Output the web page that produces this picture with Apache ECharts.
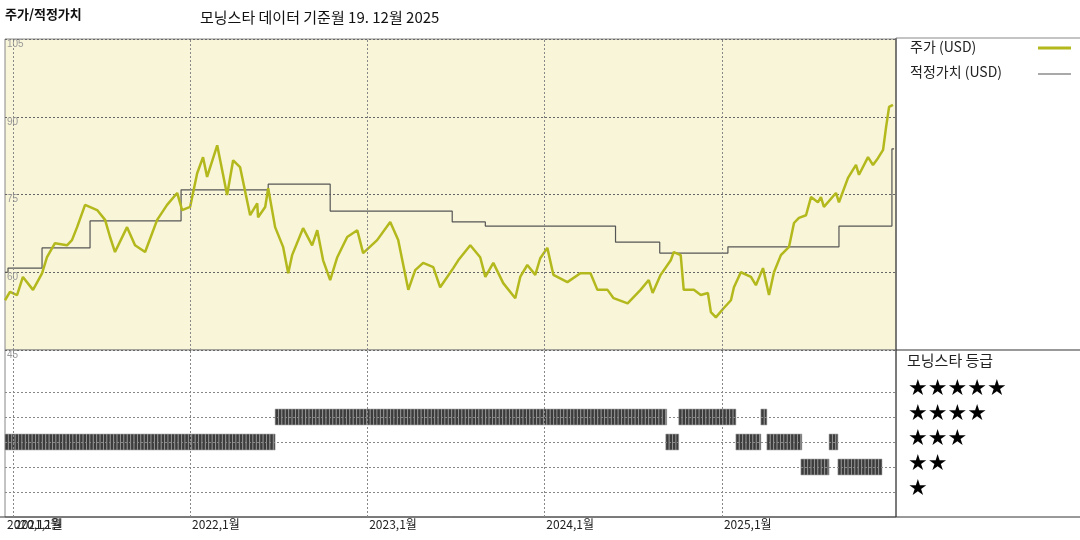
<!DOCTYPE html>
<html><head><meta charset="utf-8">
<script src="https://cdn.jsdelivr.net/npm/echarts@6/dist/echarts.min.js"></script>
<style>html,body{margin:0;padding:0;background:#fff}#main{width:1080px;height:540px}</style>
</head><body><div id="main"></div>
<script>
// decimal-year positions
const priceT = [2020.955,2020.983,2021.023,2021.056,2021.113,2021.164,2021.192,2021.237,2021.305,2021.333,2021.362,2021.407,2021.475,2021.520,2021.548,2021.576,2021.644,2021.689,2021.746,2021.814,2021.870,2021.927,2021.955,2022.000,2022.040,2022.073,2022.096,2022.153,2022.209,2022.243,2022.282,2022.339,2022.379,2022.384,2022.424,2022.441,2022.480,2022.525,2022.554,2022.576,2022.638,2022.689,2022.718,2022.751,2022.791,2022.831,2022.887,2022.944,2022.977,2023.056,2023.130,2023.175,2023.232,2023.271,2023.316,2023.373,2023.412,2023.486,2023.514,2023.582,2023.638,2023.667,2023.712,2023.768,2023.836,2023.864,2023.904,2023.949,2023.977,2024.017,2024.051,2024.130,2024.203,2024.260,2024.299,2024.356,2024.390,2024.469,2024.542,2024.588,2024.610,2024.655,2024.712,2024.729,2024.768,2024.785,2024.842,2024.881,2024.921,2024.938,2024.966,2025.011,2025.051,2025.068,2025.107,2025.164,2025.192,2025.232,2025.266,2025.294,2025.333,2025.379,2025.407,2025.435,2025.475,2025.503,2025.542,2025.559,2025.576,2025.644,2025.661,2025.712,2025.757,2025.774,2025.825,2025.853,2025.881,2025.910,2025.927,2025.944,2025.966];
const priceV = [54.6,56.2,55.6,59.1,56.6,59.8,62.9,65.6,65.2,66.2,68.7,73.0,72.0,70.1,66.8,63.9,68.7,65.2,63.9,70.1,73.0,75.3,72.0,72.6,79.1,82.2,78.4,84.5,74.9,81.6,80.3,71.0,73.3,70.6,72.6,76.2,68.7,64.9,59.8,63.3,68.5,65.2,68.1,62.3,58.5,62.9,66.8,68.1,63.7,66.2,69.7,66.2,56.6,60.4,61.8,61.0,57.1,60.8,62.3,65.2,62.9,59.1,61.8,57.9,55.0,59.1,61.4,59.5,62.7,64.7,59.5,58.1,59.8,59.8,56.6,56.6,55.0,54.0,56.6,58.5,56.0,59.5,62.3,63.9,63.3,56.6,56.6,55.6,56.0,52.3,51.3,53.1,54.6,57.1,60.0,59.1,57.5,60.8,55.6,60.0,63.3,64.9,69.5,70.5,71.0,74.5,73.5,74.5,72.6,75.3,73.5,78.2,80.7,78.8,82.2,80.7,82.0,83.6,88.0,91.9,92.3];

const fairT = [2020.955,2020.972,2021.164,2021.435,2021.949,2022.441,2022.791,2023.480,2023.667,2024.401,2024.650,2025.034,2025.661,2025.960,2025.972];
const fairV = [60.0,60.8,64.7,69.9,75.9,77.0,71.8,69.7,68.9,65.8,63.7,64.9,68.9,83.8,83.8];

// rating periods: start, end, stars
const ratingStart = [2020.955,2022.480,2024.684,2024.757,2025.079,2025.220,2025.254,2025.446,2025.605,2025.655];
const ratingEnd   = [2022.480,2024.684,2024.757,2025.079,2025.220,2025.254,2025.446,2025.605,2025.655,2025.904];
const ratingStars = [3,4,3,4,3,4,3,2,3,2];

const yearLines = [2021,2022,2023,2024,2025];
const tickLabelT = [2020.955,2021,2022,2023,2024,2025];
const tickLabels = ['2020,12월','2021,1월','2022,1월','2023,1월','2024,1월','2025,1월'];
const starRows = [1,2,3,4,5];

function ts(d){const y=Math.floor(d);const s=Date.UTC(y,0,1),e=Date.UTC(y+1,0,1);return s+(d-y)*(e-s);}
const xMin = ts(2020.955), xMax = ts(2025.983);

// weekly stripes inside each rating period
const ratingData = [];
ratingStart.forEach((s,i)=>{
  const a=ts(s), b=ts(ratingEnd[i]); const wk=7*864e5;
  for(let t=a;t<b;t+=wk) ratingData.push([t,Math.min(t+wk,b),ratingStars[i]]);
});

const vLines = yearLines.map(y=>({xAxis:ts(y)}));
const dash = {color:'#666',type:[2,2],width:1};

const chart = echarts.init(document.getElementById('main'));
const staticGraphic = [
  {type:'text',left:5,top:8,style:{text:'주가/적정가치',font:'bold 13px "Noto Sans CJK KR"',fill:'#111'}},
  {type:'text',left:200,top:10,style:{text:'모닝스타 데이터 기준월 19. 12월 2025',font:'15px "Noto Sans CJK KR"',fill:'#111'}},
  {type:'line',shape:{x1:896,y1:38,x2:1080,y2:38},style:{stroke:'#888'}},
  {type:'line',shape:{x1:896,y1:350,x2:1080,y2:350},style:{stroke:'#333'}},
  {type:'line',shape:{x1:0,y1:517,x2:1080,y2:517},style:{stroke:'#333'}},
  {type:'line',shape:{x1:896,y1:38,x2:896,y2:517},style:{stroke:'#333'}},
  {type:'text',left:910,top:40,style:{text:'주가 (USD)',font:'14px "Noto Sans CJK KR"',fill:'#222'}},
  {type:'line',shape:{x1:1038,y1:48,x2:1071,y2:48},style:{stroke:'#b3b91c',lineWidth:3}},
  {type:'text',left:910,top:65,style:{text:'적정가치 (USD)',font:'14px "Noto Sans CJK KR"',fill:'#222'}},
  {type:'line',shape:{x1:1038,y1:74,x2:1071,y2:74},style:{stroke:'#555',lineWidth:1.2}},
  {type:'text',left:907,top:353,style:{text:'모닝스타 등급',font:'15px "Noto Sans CJK KR"',fill:'#222'}},
  {type:'text',left:908,top:378,style:{text:'★★★★★',font:'22px "DejaVu Sans"',fill:'#000'}},
  {type:'text',left:908,top:403,style:{text:'★★★★',font:'22px "DejaVu Sans"',fill:'#000'}},
  {type:'text',left:908,top:428,style:{text:'★★★',font:'22px "DejaVu Sans"',fill:'#000'}},
  {type:'text',left:908,top:453,style:{text:'★★',font:'22px "DejaVu Sans"',fill:'#000'}},
  {type:'text',left:908,top:478,style:{text:'★',font:'22px "DejaVu Sans"',fill:'#000'}}
];
chart.setOption({
  animation:false,
  textStyle:{fontFamily:'"Noto Sans CJK KR", sans-serif'},
  grid:[
    {left:5,top:39,width:891,height:311,show:true,backgroundColor:'#f9f5d8',borderColor:'#888',borderWidth:1},
    {left:5,top:350,width:891,height:167,show:true,backgroundColor:'#fff',borderColor:'#888',borderWidth:1}
  ],
  xAxis:[
    {type:'time',gridIndex:0,min:xMin,max:xMax,axisLine:{show:false},axisTick:{show:false},axisLabel:{show:false},splitLine:{show:false}},
    {type:'time',gridIndex:1,min:xMin,max:xMax,axisLine:{show:false},axisTick:{show:false},axisLabel:{show:false},splitLine:{show:false}}
  ],
  yAxis:[
    {type:'value',gridIndex:0,min:45,max:105,interval:15,axisLine:{show:false},axisTick:{show:false},
     axisLabel:{inside:true,verticalAlign:'top',color:'#999',fontSize:10,margin:2,fontFamily:'Arial'},
     splitLine:{show:true,lineStyle:dash}},
    {type:'value',gridIndex:1,min:0,max:6.68,axisLine:{show:false},axisTick:{show:false},axisLabel:{show:false},splitLine:{show:false}}
  ],
  series:[
    {type:'line',xAxisIndex:0,yAxisIndex:0,step:'end',symbol:'none',data:fairT.map((t,i)=>[ts(t),fairV[i]]),
     lineStyle:{color:'#555',width:1.2},
     markLine:{silent:true,symbol:'none',label:{show:false},lineStyle:{color:'#888',type:[2,2],width:1},data:vLines}},
    {type:'line',xAxisIndex:0,yAxisIndex:0,symbol:'none',data:priceT.map((t,i)=>[ts(t),priceV[i]]),
     lineStyle:{color:'#b3b91c',width:2.5}},
    {type:'custom',xAxisIndex:1,yAxisIndex:1,data:ratingData,
     renderItem:(params,api)=>{
       const p0=api.coord([api.value(0),api.value(2)]),p1=api.coord([api.value(1),api.value(2)]);
       return {type:'rect',shape:{x:p0[0],y:p0[1]-8,width:Math.max(p1[0]-p0[0],1),height:16},
         style:{fill:'#3c3c3c',stroke:'#aaa',lineWidth:0.6}};
     },
     markLine:{silent:true,symbol:'none',label:{show:false},lineStyle:{color:'#888',type:[2,2],width:1},
       data:vLines.concat(starRows.map(s=>({yAxis:s})))}}
  ],
  graphic:staticGraphic
});
// x tick labels placed at axis positions
const labelGraphic = tickLabelT.map((t,i)=>{
  const px = chart.convertToPixel({xAxisIndex:1}, ts(t));
  return {type:'text',left:px+2,top:518,style:{text:tickLabels[i],font:'12px "Noto Sans CJK KR"',fill:'#222'}};
});
chart.setOption({graphic:staticGraphic.concat(labelGraphic)});
</script></body></html>
